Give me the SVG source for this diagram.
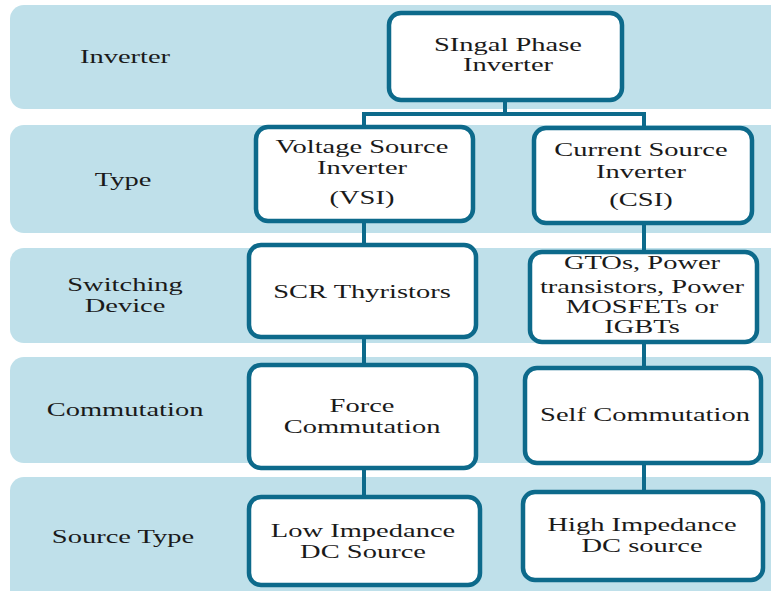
<svg xmlns="http://www.w3.org/2000/svg" width="771" height="591" viewBox="0 0 771 591">
<style>
.band{fill:#BFE0EA}
.box{fill:#FFFFFF;stroke:#0D6A8B;stroke-width:4.5}
.conn{fill:none;stroke:#0D6A8B;stroke-width:4}
.t{font-family:'Liberation Serif','DejaVu Serif',serif;font-size:19px;fill:#1a1a1a;text-anchor:middle}
</style>
<rect width="771" height="591" fill="#FFFFFF"/>
<g id="bands">
<rect class="band" x="10" y="5" width="780" height="104" rx="14"/>
<rect class="band" x="10" y="125" width="780" height="108" rx="14"/>
<rect class="band" x="10" y="248" width="780" height="95" rx="14"/>
<rect class="band" x="10" y="357" width="780" height="106" rx="14"/>
<rect class="band" x="10" y="477" width="780" height="130" rx="14"/>
</g>
<g id="row-labels">
<text class="t" font-family="Liberation Serif, serif" transform="translate(125,63) scale(1.5,1)">Inverter</text>
<text class="t" font-family="Liberation Serif, serif" transform="translate(123,186) scale(1.5,1)">Type</text>
<text class="t" font-family="Liberation Serif, serif" transform="translate(125,291) scale(1.5,1)">Switching</text>
<text class="t" font-family="Liberation Serif, serif" transform="translate(125,312) scale(1.5,1)">Device</text>
<text class="t" font-family="Liberation Serif, serif" transform="translate(125,416) scale(1.5,1)">Commutation</text>
<text class="t" font-family="Liberation Serif, serif" transform="translate(123,543) scale(1.5,1)">Source Type</text>
</g>
<g id="connectors">
<path class="conn" d="M505,100 V114 M364,114 H644 M364,112 V127 M644,112 V128"/>
<path class="conn" d="M364,221 V245 M364,337 V365 M364,468 V497"/>
<path class="conn" d="M644,223 V252 M644,342 V368 M644,463 V492"/>
</g>
<g id="node-root">
<rect class="box" x="389" y="13" width="233" height="87" rx="12"/>
<text class="t" transform="translate(508,51) scale(1.5,1)">SIngal Phase</text>
<text class="t" transform="translate(508,71) scale(1.5,1)">Inverter</text>
</g>
<g id="node-vsi">
<rect class="box" x="256" y="127" width="217" height="94" rx="12"/>
<text class="t" transform="translate(362,153) scale(1.5,1)">Voltage Source</text>
<text class="t" transform="translate(362,174) scale(1.5,1)">Inverter</text>
<text class="t" transform="translate(362,204) scale(1.5,1)">(VSI)</text>
</g>
<g id="node-csi">
<rect class="box" x="534" y="128" width="218" height="95" rx="12"/>
<text class="t" transform="translate(641,156) scale(1.5,1)">Current Source</text>
<text class="t" transform="translate(641,178) scale(1.5,1)">Inverter</text>
<text class="t" transform="translate(641,206) scale(1.5,1)">(CSI)</text>
</g>
<g id="node-scr">
<rect class="box" x="249" y="245" width="227" height="92" rx="12"/>
<text class="t" transform="translate(362,298) scale(1.5,1)">SCR Thyristors</text>
</g>
<g id="node-gto">
<rect class="box" x="530" y="252" width="227" height="90" rx="12"/>
<text class="t" transform="translate(642,269) scale(1.5,1)">GTOs, Power</text>
<text class="t" transform="translate(642,293) scale(1.5,1)">transistors, Power</text>
<text class="t" transform="translate(642,313) scale(1.5,1)">MOSFETs or</text>
<text class="t" transform="translate(642,333) scale(1.5,1)">IGBTs</text>
</g>
<g id="node-force">
<rect class="box" x="249" y="365" width="227" height="103" rx="12"/>
<text class="t" transform="translate(362,412) scale(1.5,1)">Force</text>
<text class="t" transform="translate(362,433) scale(1.5,1)">Commutation</text>
</g>
<g id="node-self">
<rect class="box" x="525" y="368" width="236" height="95" rx="12"/>
<text class="t" transform="translate(645,421) scale(1.5,1)">Self Commutation</text>
</g>
<g id="node-low">
<rect class="box" x="249" y="497" width="231" height="88" rx="12"/>
<text class="t" transform="translate(363,537) scale(1.5,1)">Low Impedance</text>
<text class="t" transform="translate(363,558) scale(1.5,1)">DC Source</text>
</g>
<g id="node-high">
<rect class="box" x="523" y="492" width="240" height="88" rx="12"/>
<text class="t" transform="translate(642,531) scale(1.5,1)">High Impedance</text>
<text class="t" transform="translate(642,552) scale(1.5,1)">DC source</text>
</g>
</svg>
